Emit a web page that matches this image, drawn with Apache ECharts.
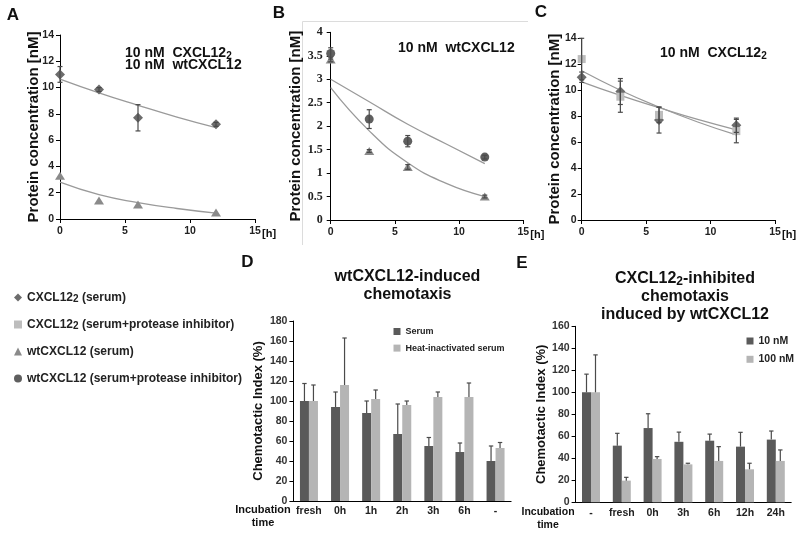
<!DOCTYPE html>
<html><head><meta charset="utf-8">
<script src="https://cdn.jsdelivr.net/npm/echarts@6/dist/echarts.min.js"></script>
<style>html,body{margin:0;padding:0;background:#fff}#c{width:800px;height:533px}</style>
</head><body><div id="c"></div><script>
// ---------- data ----------
const hours = [0, 3, 6, 12];
const fitHours = [0, 3, 6, 9, 12];
const timeTicks = [0, 5, 10, 15];
// Panel A
const aDiamond = [11.0, 9.85, 7.7, 7.2];
const aDiamondErr = [0.6, 0.15, 1.0, 0.15];
const aTriangle = [3.3, 1.4, 1.1, 0.5];
const aTriangleErr = [0.2, 0.1, 0.1, 0.05];
const aDiamondFit = [10.65, 9.6, 8.65, 7.75, 6.95];
const aTriangleFit = [2.8, 1.85, 1.25, 0.8, 0.45];
// Panel B
const bCircle = [3.55, 2.15, 1.68, 1.34];
const bCircleErr = [0.12, 0.2, 0.12, 0.04];
const bTriangle = [3.42, 1.47, 1.13, 0.5];
const bTriangleErr = [0.05, 0.03, 0.05, 0.03];
const bCircleFit = [3.0, 2.52, 2.04, 1.62, 1.2];
const bTriangleFit = [2.82, 1.9, 1.22, 0.78, 0.5];
// Panel C
const cDiamond = [11.0, 9.9, 7.7, 7.3];
const cDiamondErr = [0.4, 1.0, 1.0, 0.55];
const cSquare = [12.4, 9.5, 8.1, 6.85];
const cSquareErr = [1.6, 1.2, 0.6, 0.9];
const cDiamondFit = [10.65, 9.6, 8.65, 7.75, 6.95];
const cSquareFit = [11.5, 10.0, 8.7, 7.55, 6.55];
// Panel D
const dCategories = ['fresh', '0h', '1h', '2h', '3h', '6h', '-'];
const dSerum = [100, 94, 88, 67, 55, 49, 40];
const dSerumErr = [17.5, 15, 12, 30, 8.5, 9, 15];
const dHeat = [100, 116, 102, 96, 104, 104, 53];
const dHeatErr = [16, 47, 9, 4, 5, 14, 5.5];
// Panel E
const eCategories = ['-', 'fresh', '0h', '3h', '6h', '12h', '24h'];
const e10 = [100, 51.5, 67.5, 55, 56, 50.6, 57];
const e10Err = [16.5, 11.2, 13, 8.8, 6, 13, 7.8];
const e100 = [100, 19.7, 39.4, 34.5, 37.6, 30, 37.6];
const e100Err = [34, 3, 2.1, 1, 13, 5.5, 10];
// names
const N_DS = 'CXCL12\u2082 (serum)';
const N_DP = 'CXCL12\u2082 (serum+protease inhibitor)';
const N_TS = 'wtCXCL12 (serum)';
const N_CP = 'wtCXCL12 (serum+protease inhibitor)';

// ---------- styling ----------
const F = '"Liberation Sans", Arial, Helvetica, sans-serif';
const DARK = '#5a5a5a', LIGHT = '#b5b5b5';
const C_DIA = '#6c6c6c', C_TRI = '#8a8a8a', C_CIR = '#5f5f5f', C_SQ = '#bdbdbd';
const FIT = '#9a9a9a', ERR = '#4a4a4a';

function subRich(size, drop) {
  return {sub: {fontFamily: F, fontWeight: 'bold', fontSize: size, color: '#111', fill: '#111',
    verticalAlign: 'bottom', padding: [drop, 0, 0, 0]}};
}
function withSub(s) { return s.replace('\u2082', '{sub|2}'); }

function valX(gi) {
  return {
    type: 'value', gridIndex: gi, min: 0, max: 15, interval: 5,
    name: '[h]', nameLocation: 'end', nameGap: 7, nameMoveOverlap: false,
    nameTextStyle: {fontFamily: F, fontWeight: 'bold', fontSize: 11, color: '#111', verticalAlign: 'top', padding: [9, 0, 0, 0]},
    axisLine: {lineStyle: {color: '#000', width: 1}},
    axisTick: {length: 4, lineStyle: {color: '#000'}},
    axisLabel: {fontFamily: F, fontWeight: 'bold', fontSize: 10.5, color: '#222', margin: 7},
    splitLine: {show: false}
  };
}
function valY(gi, max, interval, name, gap, font, margin, fs) {
  return {
    type: 'value', gridIndex: gi, min: 0, max: max, interval: interval,
    name: name, nameLocation: 'middle', nameGap: gap, nameMoveOverlap: false,
    nameTextStyle: {fontFamily: F, fontWeight: 'bold', fontSize: fs, color: '#111'},
    axisLine: {show: true, lineStyle: {color: '#000', width: 1}},
    axisTick: {show: true, length: 4, lineStyle: {color: '#000'}},
    axisLabel: {fontFamily: font, fontWeight: 'bold', fontSize: font === F ? 10.5 : 12, color: '#222', margin: margin},
    splitLine: {show: false}
  };
}
function catX(gi, cats) {
  return {
    type: 'category', gridIndex: gi, data: cats, boundaryGap: true,
    axisLine: {lineStyle: {color: '#000', width: 1}},
    axisTick: {length: 4, alignWithLabel: false, lineStyle: {color: '#000'}},
    axisLabel: {fontFamily: F, fontWeight: 'bold', fontSize: 10.5, color: '#222', margin: 5, interval: 0}
  };
}
function catY(gi, max, gap) {
  return {
    type: 'value', gridIndex: gi, min: 0, max: max, interval: 20,
    name: 'Chemotactic Index (%)', nameLocation: 'middle', nameGap: gap, nameMoveOverlap: false,
    nameTextStyle: {fontFamily: F, fontWeight: 'bold', fontSize: 13, color: '#111'},
    axisLine: {show: true, lineStyle: {color: '#000', width: 1}},
    axisTick: {show: true, length: 4, lineStyle: {color: '#000'}},
    axisLabel: {fontFamily: F, fontWeight: 'bold', fontSize: 10.5, color: '#333', margin: 6},
    splitLine: {show: false}
  };
}
function pts(xs, ys) { return xs.map((x, i) => [x, ys[i]]); }
function fitLine(ai, ys) {
  return {type: 'line', xAxisIndex: ai, yAxisIndex: ai, data: pts(fitHours, ys), smooth: true,
    symbol: 'none', silent: true, z: 1, lineStyle: {color: FIT, width: 1.3}};
}
function scat(ai, name, ys, symbol, size, color) {
  return {type: 'scatter', name: name, xAxisIndex: ai, yAxisIndex: ai, data: pts(hours, ys),
    symbol: symbol, symbolSize: size, itemStyle: {color: color, opacity: 1}, z: 3, silent: true};
}
function errXY(ai, ys, es) {
  return {
    type: 'custom', xAxisIndex: ai, yAxisIndex: ai, z: 4, silent: true,
    data: hours.map((h, i) => [h, ys[i] - es[i], ys[i] + es[i]]),
    encode: {x: 0, y: [1, 2]},
    renderItem: function (p, api) {
      const x = api.value(0);
      const lo = api.coord([x, api.value(1)]);
      const hi = api.coord([x, api.value(2)]);
      const w = 2.5, st = {stroke: ERR, lineWidth: 1.2};
      return {type: 'group', children: [
        {type: 'line', shape: {x1: lo[0], y1: lo[1], x2: hi[0], y2: hi[1]}, style: st},
        {type: 'line', shape: {x1: hi[0] - w, y1: hi[1], x2: hi[0] + w, y2: hi[1]}, style: st},
        {type: 'line', shape: {x1: lo[0] - w, y1: lo[1], x2: lo[0] + w, y2: lo[1]}, style: st}
      ]};
    }
  };
}
function bar(ai, name, vals, color) {
  return {type: 'bar', name: name, xAxisIndex: ai, yAxisIndex: ai, data: vals, barWidth: 9,
    barGap: '0%', itemStyle: {color: color}, silent: true, z: 2};
}
function errBar(ai, vals, es, side) {
  return {
    type: 'custom', xAxisIndex: ai, yAxisIndex: ai, z: 4, silent: true,
    data: vals.map((v, i) => [i, v, v + es[i]]),
    encode: {x: 0, y: [1, 2]},
    renderItem: function (p, api) {
      const lo = api.coord([api.value(0), api.value(1)]);
      const hi = api.coord([api.value(0), api.value(2)]);
      const x = lo[0] + side * 4.5, w = 2.2, st = {stroke: ERR, lineWidth: 1.2};
      return {type: 'group', children: [
        {type: 'line', shape: {x1: x, y1: lo[1], x2: x, y2: hi[1]}, style: st},
        {type: 'line', shape: {x1: x - w, y1: hi[1], x2: x + w, y2: hi[1]}, style: st}
      ]};
    }
  };
}
function txt(text, x, y, size, align, lh) {
  return {type: 'text', x: x, y: y, silent: true, style: {
    text: withSub(text), fontFamily: F, fontWeight: 'bold', fontSize: size, fill: '#111',
    align: align || 'center', textAlign: align || 'center', verticalAlign: 'middle', textVerticalAlign: 'middle',
    lineHeight: lh || Math.round(size * 1.2), rich: subRich(Math.round(size * 0.72), Math.round(size * 0.38))}};
}
function legendText(size, lh) {
  return {fontFamily: F, fontWeight: 'bold', fontSize: size, color: '#222', lineHeight: lh,
    rich: {sub: {fontFamily: F, fontWeight: 'bold', fontSize: Math.round(size * 0.8), color: '#222',
      verticalAlign: 'bottom', padding: [4, 0, 0, 0]}}};
}

const option = {
  animation: false,
  backgroundColor: '#fff',
  grid: [
    {left: 60, top: 35, width: 195, height: 184, outerBoundsMode: 'none'},
    {left: 330.7, top: 32.3, width: 192.6, height: 187.7, outerBoundsMode: 'none'},
    {left: 581.7, top: 38.3, width: 193.3, height: 181.7, outerBoundsMode: 'none'},
    {left: 293.4, top: 321, width: 217.7, height: 180, outerBoundsMode: 'none'},
    {left: 575.6, top: 326.3, width: 215.6, height: 176, outerBoundsMode: 'none'}
  ],
  xAxis: [valX(0), valX(1), valX(2), catX(3, dCategories), catX(4, eCategories)],
  yAxis: [
    valY(0, 14, 2, 'Protein concentration [nM]', 19, F, 6, 15),
    valY(1, 4, 0.5, 'Protein concentration [nM]', 27, '"Liberation Serif", "Times New Roman", serif', 8, 15),
    valY(2, 14, 2, 'Protein concentration [nM]', 19, F, 5, 15),
    catY(3, 180, 28),
    catY(4, 160, 28)
  ],
  legend: [
    {data: [N_DS, N_DP, N_TS, N_CP], orient: 'vertical', left: 9, top: 285.5, itemWidth: 8, itemHeight: 8,
      itemGap: 13, selectedMode: false, formatter: withSub, textStyle: legendText(12, 14)},
    {data: ['Serum', 'Heat-inactivated serum'], orient: 'vertical', left: 388.5, top: 321, itemWidth: 7, itemHeight: 7,
      itemGap: 5.6, icon: 'rect', selectedMode: false,
      textStyle: {fontFamily: F, fontWeight: 'bold', fontSize: 9, color: '#222', lineHeight: 11}},
    {data: ['10 nM', '100 nM'], orient: 'vertical', left: 741.5, top: 330, itemWidth: 7, itemHeight: 7,
      itemGap: 6.3, icon: 'rect', selectedMode: false,
      textStyle: {fontFamily: F, fontWeight: 'bold', fontSize: 10.5, color: '#222', lineHeight: 12}}
  ],
  series: [
    fitLine(0, aDiamondFit), fitLine(0, aTriangleFit),
    scat(0, N_DS, aDiamond, 'diamond', [10, 10], C_DIA),
    scat(0, N_TS, aTriangle, 'triangle', [10, 8], C_TRI),
    errXY(0, aDiamond, aDiamondErr),
    fitLine(1, bCircleFit), fitLine(1, bTriangleFit),
    scat(1, N_CP, bCircle, 'circle', 9, C_CIR),
    scat(1, N_TS, bTriangle, 'triangle', [10, 8], C_TRI),
    errXY(1, bCircle, bCircleErr), errXY(1, bTriangle, bTriangleErr),
    fitLine(2, cDiamondFit), fitLine(2, cSquareFit),
    scat(2, N_DS, cDiamond, 'diamond', [10, 10], C_DIA),
    scat(2, N_DP, cSquare, 'rect', 8, C_SQ),
    errXY(2, cDiamond, cDiamondErr), errXY(2, cSquare, cSquareErr),
    bar(3, 'Serum', dSerum, DARK), bar(3, 'Heat-inactivated serum', dHeat, LIGHT),
    errBar(3, dSerum, dSerumErr, -1), errBar(3, dHeat, dHeatErr, 1),
    bar(4, '10 nM', e10, DARK), bar(4, '100 nM', e100, LIGHT),
    errBar(4, e10, e10Err, -1), errBar(4, e100, e100Err, 1)
  ],
  graphic: [
    {type: 'polyline', silent: true, shape: {points: [[302.5, 245], [302.5, 21.5], [528, 21.5]]},
      style: {stroke: '#dcdcdc', lineWidth: 1, fill: null}},
    txt('A', 13, 15, 17), txt('B', 279, 13.5, 17), txt('C', 541, 12, 17),
    txt('D', 247.5, 262.5, 17), txt('E', 522, 263, 17),
    txt('10 nM  CXCL12\u2082', 125, 53, 14, 'left'),
    txt('10 nM  wtCXCL12', 125, 65.5, 14, 'left'),
    txt('10 nM  wtCXCL12', 398, 48, 14, 'left'),
    txt('10 nM  CXCL12\u2082', 660, 53, 14, 'left'),
    txt('wtCXCL12-induced\nchemotaxis', 407.5, 286, 16, 'center', 18),
    txt('CXCL12\u2082-inhibited\nchemotaxis\ninduced by wtCXCL12', 685, 297, 16, 'center', 18),
    txt('Incubation\ntime', 263, 516.5, 11, 'center', 13),
    txt('Incubation\ntime', 548, 518.3, 10.5, 'center', 13)
  ]
};
const chart = echarts.init(document.getElementById('c'));
chart.setOption(option);
</script></body></html>
